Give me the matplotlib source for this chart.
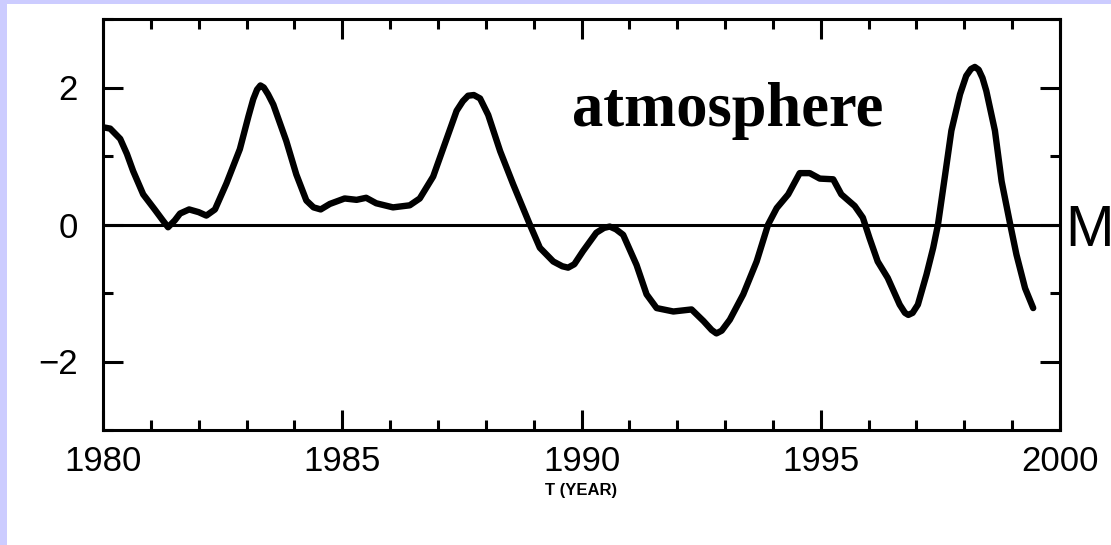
import matplotlib
matplotlib.use("Agg")
import matplotlib.pyplot as plt
from matplotlib.ticker import MultipleLocator
from matplotlib.patches import Rectangle
import matplotlib.transforms as mtransforms

# values
years = [1980.00, 1980.15, 1980.36, 1980.50, 1980.63, 1980.84, 1981.08, 1981.25,
         1981.36, 1981.50, 1981.61, 1981.80, 1982.00, 1982.16, 1982.34, 1982.58,
         1982.86, 1983.04, 1983.14, 1983.22, 1983.29, 1983.36, 1983.45, 1983.56,
         1983.83, 1984.04, 1984.25, 1984.40, 1984.55, 1984.74, 1985.05, 1985.30,
         1985.50, 1985.71, 1986.06, 1986.41, 1986.62, 1986.83, 1986.90, 1987.14,
         1987.39, 1987.52, 1987.63, 1987.75, 1987.88, 1988.05, 1988.30, 1988.57,
         1988.92, 1989.13, 1989.41, 1989.60, 1989.72, 1989.85, 1990.03, 1990.31,
         1990.47, 1990.59, 1990.72, 1990.87, 1991.15, 1991.36, 1991.57, 1991.92,
         1992.30, 1992.55, 1992.72, 1992.82, 1992.93, 1993.10, 1993.38, 1993.66,
         1993.90, 1994.08, 1994.32, 1994.56, 1994.77, 1994.98, 1995.26, 1995.43,
         1995.71, 1995.88, 1996.02, 1996.19, 1996.40, 1996.65, 1996.76, 1996.83,
         1996.92, 1997.03, 1997.21, 1997.35, 1997.45, 1997.60, 1997.73, 1997.91,
         1998.04, 1998.14, 1998.22, 1998.30, 1998.38, 1998.46, 1998.64, 1998.78,
         1998.96, 1999.09, 1999.27, 1999.44]
anomaly = [1.42, 1.40, 1.25, 1.03, 0.78, 0.44, 0.22, 0.06,
           -0.04, 0.06, 0.16, 0.22, 0.18, 0.13, 0.22, 0.60,
           1.10, 1.58, 1.83, 1.97, 2.03, 2.00, 1.90, 1.75,
           1.22, 0.73, 0.35, 0.25, 0.22, 0.30, 0.38, 0.36,
           0.39, 0.31, 0.25, 0.28, 0.38, 0.62, 0.70, 1.17,
           1.66, 1.80, 1.88, 1.89, 1.84, 1.60, 1.07, 0.59,
           0.00, -0.34, -0.54, -0.61, -0.63, -0.58, -0.39, -0.12,
           -0.05, -0.03, -0.07, -0.15, -0.59, -1.02, -1.22, -1.27,
           -1.24, -1.41, -1.54, -1.59, -1.55, -1.39, -1.02, -0.54,
           0.00, 0.24, 0.44, 0.75, 0.75, 0.67, 0.66, 0.44,
           0.27, 0.10, -0.20, -0.54, -0.78, -1.17, -1.29, -1.32,
           -1.29, -1.17, -0.73, -0.34, 0.00, 0.73, 1.37, 1.90,
           2.17, 2.27, 2.30, 2.26, 2.14, 1.95, 1.37, 0.63,
           0.00, -0.44, -0.93, -1.22]

xticks = [1980, 1985, 1990, 1995, 2000]
yticks = [-2, 0, 2]
ytick_labels = ["\u22122", "0", "2"]

W, H = 1111, 545
fig = plt.figure(figsize=(W / 100, H / 100), dpi=100)
fig.patch.set_facecolor("#ccccff")
# white panel inside the lavender border (drawn under the axes)
fig.patches.append(Rectangle((7 / W, 0), 1 - 7 / W, 1 - 4 / H, transform=fig.transFigure,
                             facecolor="white", edgecolor="none", zorder=-10))

ax = fig.add_axes([103 / W, 1 - 430 / H, (1060 - 103) / W, (430 - 19) / H])
ax.set_facecolor("white")

ax.plot(years, anomaly, color="black", lw=4.6, solid_joinstyle="round",
        solid_capstyle="round", zorder=3)
ax.axhline(0, color="black", lw=2.2, zorder=2)

ax.set_xlim(1980, 2000)
ax.set_ylim(-3, 3)
ax.set_xticks(xticks)
ax.set_yticks(yticks)
ax.set_yticklabels(ytick_labels)
ax.xaxis.set_minor_locator(MultipleLocator(1))
ax.yaxis.set_minor_locator(MultipleLocator(1))

for s in ax.spines.values():
    s.set_linewidth(2.2)

ax.tick_params(which="both", direction="in", top=True, right=True, width=2.2,
               colors="black")
ax.tick_params(which="major", length=14.5)
ax.tick_params(which="minor", length=7.2)
ax.tick_params(axis="x", which="major", pad=11, labelsize=25)
ax.tick_params(axis="y", which="major", pad=18, labelsize=25)
for lab in ax.get_xticklabels() + ax.get_yticklabels():
    lab.set_family("Liberation Sans")

ax.text(0.5, -0.128, "T (YEAR)", transform=ax.transAxes, ha="center", va="top",
        fontsize=12, fontweight="bold",
        family=["Liberation Sans Narrow", "Liberation Sans"])

ax.text(1989.8, 1.44, "atmosphere", fontsize=45, fontweight="bold",
        family="Liberation Serif", ha="left", va="baseline")

# label at the right end of the zero line, cut by the image edge
trans = mtransforms.blended_transform_factory(ax.transAxes, ax.transData)
ax.text(1.005, -0.32, "M", transform=trans, ha="left", va="baseline",
        fontsize=42, family="Liberation Sans", clip_on=False)

fig.savefig("out.png", dpi=100, facecolor=fig.get_facecolor())
